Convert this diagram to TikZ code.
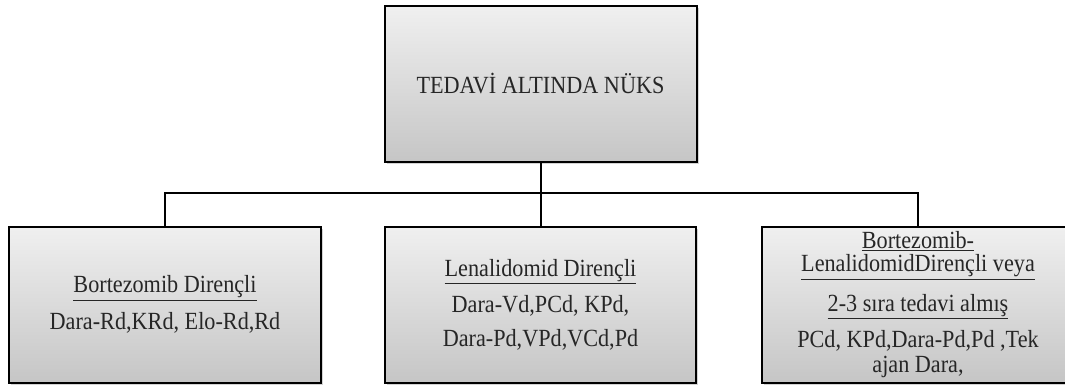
\documentclass[tikz,border=0pt]{standalone}
\usepackage{fontspec}
\setmainfont{Liberation Serif}[FakeStretch=0.9]
\usetikzlibrary{shadows}
\definecolor{txt}{HTML}{262626}
\tikzset{
  box/.style={draw=black, line width=1.5pt, rectangle, inner sep=0pt,
    top color=gray!12, bottom color=gray!45,
    drop shadow={shadow xshift=1.5pt, shadow yshift=-1.5pt, opacity=0.35, fill=gray},
    text=txt, align=center, font=\fontsize{18.5}{17.5}\selectfont},
  link/.style={draw=black, line width=1.5pt}
}
\begin{document}
\begin{tikzpicture}[x=0.75pt, y=-0.75pt]
\useasboundingbox (0,0) rectangle (1065,385);
\node[box, minimum width=312*0.75pt, minimum height=156*0.75pt] (top) at (540.5,84) {TEDAVİ ALTINDA NÜKS};
\node[box, minimum width=312*0.75pt, minimum height=156*0.75pt] (left) at (165,304.5)
  {\underline{Bortezomib Dirençli}\\[7.5pt] Dara-Rd,KRd, Elo-Rd,Rd};
\node[box, minimum width=311*0.75pt, minimum height=156*0.75pt] (mid) at (540.5,304.5)
  {\underline{Lenalidomid Dirençli}\\[7.5pt] Dara-Vd,PCd, KPd,\\[7.5pt] Dara-Pd,VPd,VCd,Pd};
\node[box, minimum width=312*0.75pt, minimum height=156*0.75pt] (right) at (918,304.5)
  {\underline{Bortezomib-}\\ \underline{LenalidomidDirençli veya}\\[10pt] \underline{2-3 sıra tedavi almış}\\[7pt] PCd, KPd,Dara-Pd,Pd ,Tek\\[1.5pt] ajan Dara,};
\coordinate (j) at (540.5,193);
\draw[link] (top.south) -- (j);
\draw[link] (left.north) |- (j);
\draw[link] (right.north) |- (j);
\draw[link] (j) -- (mid.north);
\end{tikzpicture}
\end{document}
